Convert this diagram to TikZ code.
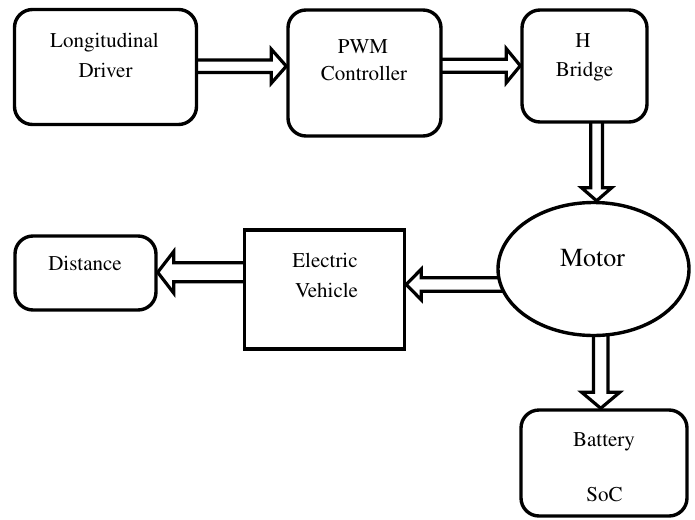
\documentclass[tikz,border=0pt]{standalone}
\usepackage[T1]{fontenc}
\usepackage{mathptmx}
\usetikzlibrary{calc,backgrounds,shapes.geometric}

\tikzset{
  % block arrow geometry: half shaft width, half head width, head length
  blk shaft/.store in=\blkshaft,
  blk head/.store in=\blkhead,
  blk len/.store in=\blklen,
  blk shaft=6.5pt, blk head=17pt, blk len=15pt,
  flow/.style={draw, line width=3.2pt, line join=miter},
  arrow right/.style={flow, to path={let \p1=(\tikztostart), \p2=(\tikztotarget) in
      (\x1,\y1+\blkshaft) -- (\x2-\blklen,\y1+\blkshaft) -- (\x2-\blklen,\y1+\blkhead)
      -- (\x2,\y1) -- (\x2-\blklen,\y1-\blkhead) -- (\x2-\blklen,\y1-\blkshaft) -- (\x1,\y1-\blkshaft)}},
  arrow left/.style={flow, to path={let \p1=(\tikztostart), \p2=(\tikztotarget) in
      (\x1,\y1+\blkshaft) -- (\x2+\blklen,\y1+\blkshaft) -- (\x2+\blklen,\y1+\blkhead)
      -- (\x2,\y1) -- (\x2+\blklen,\y1-\blkhead) -- (\x2+\blklen,\y1-\blkshaft) -- (\x1,\y1-\blkshaft)}},
  arrow down/.style={flow, to path={let \p1=(\tikztostart), \p2=(\tikztotarget) in
      (\x1+\blkshaft,\y1) -- (\x1+\blkshaft,\y2+\blklen) -- (\x1+\blkhead,\y2+\blklen)
      -- (\x1,\y2) -- (\x1-\blkhead,\y2+\blklen) -- (\x1-\blkshaft,\y2+\blklen) -- (\x1-\blkshaft,\y1)}},
  box/.style={draw, line width=3.4pt, fill=white, rounded corners=18pt, inner sep=0pt},
  plainbox/.style={draw, line width=3.4pt, fill=white, sharp corners, inner sep=0pt},
  oval/.style={draw, ellipse, line width=3.4pt, fill=white, inner sep=0pt},
  txt/.style={inner sep=0pt, anchor=base, font=\fontsize{21}{25}\selectfont},
  bigtxt/.style={txt, font=\fontsize{26}{30}\selectfont},
}

\begin{document}
\begin{tikzpicture}[x=1pt, y=-1pt]
\useasboundingbox (0,0) rectangle (695,519);

% blocks
\node[box, minimum width=182, minimum height=115] (ld) at (105.5,67) {};
\node[box, minimum width=153, minimum height=126] (pwm) at (364.5,73) {};
\node[box, minimum width=125, minimum height=112] (hb) at (584.5,66) {};
\node[oval, minimum width=191, minimum height=133] (motor) at (593.5,269) {};
\node[plainbox, minimum width=160, minimum height=119] (ev) at (324.5,289.5) {};
\node[box, minimum width=141, minimum height=74] (dist) at (85.5,273) {};
\node[box, minimum width=166, minimum height=106] (bat) at (604,463) {};

% labels
\node[txt] (ld1) at (104.5,48) {Longitudinal};
\node[txt] (ld2) at (105.5,77) {Driver};
\node[txt] (pwm1) at (363,53) {PWM};
\node[txt] (pwm2) at (364,80) {Controller};
\node[txt] (hb1) at (583,48) {H};
\node[txt] (hb2) at (584.5,76) {Bridge};
\node[bigtxt] (mot) at (592.5,266) {Motor};
\node[txt] (ev1) at (325,267) {Electric};
\node[txt] (ev2) at (326.5,297) {Vehicle};
\node[txt] (dst) at (85,270.5) {Distance};
\node[txt] (bat1) at (604,446.5) {Battery};
\node[txt] (bat2) at (604.5,501.5) {SoC};

% connectors, behind the blocks
\begin{scope}[on background layer]
  \draw[arrow right, blk shaft=6.2pt, blk head=17pt, blk len=15pt]
    (ld.center |- 0,66.2) to (pwm.west |- 0,66.2);
  \draw[arrow right, blk shaft=6.5pt, blk head=17pt, blk len=14pt]
    (pwm.center |- 0,65.7) to (hb.west |- 0,65.7);
  \draw[arrow down, blk shaft=5.8pt, blk head=15pt, blk len=13pt]
    (hb.center -| 596.6,0) to (motor.north -| 596.6,0);
  \draw[arrow left, blk shaft=6.7pt, blk head=15.3pt, blk len=15pt]
    (motor.center |- 0,284.5) to (ev.east |- 0,284.5);
  \draw[arrow left, blk shaft=9.5pt, blk head=20.8pt, blk len=16pt]
    (ev.center |- 0,272.3) to (dist.east |- 0,272.3);
  \draw[arrow down, blk shaft=7.2pt, blk head=19pt, blk len=16pt]
    (motor.center -| 600.7,0) to (bat.north -| 600.7,0);
\end{scope}
\end{tikzpicture}
\end{document}
